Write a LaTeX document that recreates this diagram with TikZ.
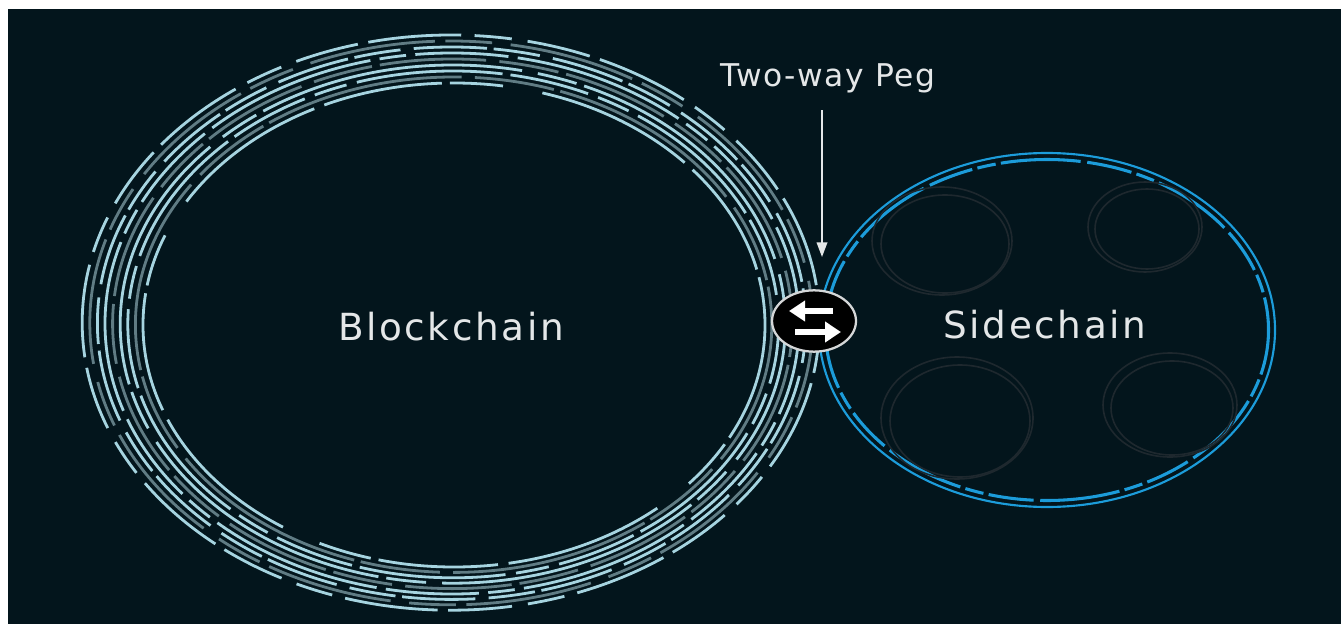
\documentclass[tikz,border=0pt]{standalone}
\usepackage{fontspec}
\setmainfont{DejaVu Sans}
\usetikzlibrary{shapes.geometric,arrows.meta}
\definecolor{night}{RGB}{3,21,28}
\definecolor{frost}{RGB}{166,212,224}
\definecolor{slate}{RGB}{96,124,132}
\definecolor{sky}{RGB}{28,156,218}
\definecolor{haze}{RGB}{30,40,46}
\definecolor{chalk}{RGB}{228,231,232}
\tikzset{
    ring/.style={line width=2.1pt},
    lite/.style={ring, draw=frost},
    dim/.style={ring, draw=slate},
    sidering/.style={draw=sky, line width=2.3pt},
    bubble/.style={draw=haze, line width=1.2pt},
    chainname/.style={text=chalk, anchor=base, font=\fontsize{28}{30}\selectfont\addfontfeature{LetterSpace=7}},
    pegname/.style={text=chalk, anchor=base, font=\fontsize{23.5}{26}\selectfont\addfontfeature{LetterSpace=5}},
    peg/.style={ellipse, fill=black, draw=chalk!85!gray, line width=1.7pt, minimum width=63pt, minimum height=46pt, inner sep=0pt},
    swap/.style={-{Triangle[length=12pt,width=15pt]}, white, line width=4.6pt},
    line/.style={-{Triangle[length=11pt,width=8pt]}, chalk, line width=1.2pt},
}

\begin{document}
\begin{tikzpicture}[x=0.75pt, y=-0.75pt]
        \useasboundingbox (0,0) rectangle (1341,624);
        \fill[white] (0,0) rectangle (1341,624);
        \fill[night] (8,9) rectangle (1341,624);

        % main chain: bundle of broken rings
        \draw[lite, dash pattern=on 90pt off 6pt on 40pt off 30pt on 120pt off 8pt] (454,325) ellipse [x radius=311, y radius=242];
        \draw[dim, dash pattern=on 150pt off 10pt on 60pt off 5pt, dash phase=40pt] (453.6,324.7) ellipse [x radius=318.2, y radius=247.7];
        \draw[lite, dash pattern=on 60pt off 8pt on 25pt off 8pt on 110pt off 6pt, dash phase=15pt] (453.2,324.4) ellipse [x radius=325.4, y radius=253.4];
        \draw[lite, dash pattern=on 200pt off 12pt on 30pt off 6pt, dash phase=90pt] (452.8,324.1) ellipse [x radius=332.6, y radius=259.1];
        \draw[dim, dash pattern=on 45pt off 6pt on 80pt off 10pt, dash phase=20pt] (452.4,323.8) ellipse [x radius=339.8, y radius=264.8];
        \draw[lite, dash pattern=on 130pt off 7pt on 20pt off 7pt on 70pt off 7pt, dash phase=60pt] (452,323.5) ellipse [x radius=347, y radius=270.5];
        \draw[lite, dash pattern=on 35pt off 10pt on 55pt off 5pt, dash phase=5pt] (451.6,323.2) ellipse [x radius=354.2, y radius=276.2];
        \draw[dim, dash pattern=on 95pt off 8pt on 35pt off 14pt, dash phase=30pt] (451.2,322.9) ellipse [x radius=361.4, y radius=281.9];
        \draw[lite, dash pattern=on 28pt off 12pt on 48pt off 8pt on 70pt off 10pt, dash phase=50pt] (450.8,322.6) ellipse [x radius=368.6, y radius=287.6];

        % side chain
        \draw[sidering, line width=1.6pt] (1047,330) ellipse [x radius=228, y radius=177];
        \draw[sidering, dash pattern=on 34pt off 4pt on 14pt off 4pt on 60pt off 5pt] (1047,330) ellipse [x radius=221.5, y radius=170.5];

        % faint bubbles inside the side chain
        \draw[bubble] (942,241) ellipse [x radius=70, y radius=54];
        \draw[bubble] (945,244) ellipse [x radius=64, y radius=49];
        \draw[bubble] (1145,227) ellipse [x radius=57, y radius=45];
        \draw[bubble] (1147,229) ellipse [x radius=52, y radius=40];
        \draw[bubble] (957,418) ellipse [x radius=76, y radius=61];
        \draw[bubble] (960,421) ellipse [x radius=70, y radius=56];
        \draw[bubble] (1170,405) ellipse [x radius=67, y radius=52];
        \draw[bubble] (1172,408) ellipse [x radius=61, y radius=47];

        \node[chainname] (main) at (451,340) {Blockchain};
        \node[chainname] (side) at (1045,338) {Sidechain};
        \node[pegname] (pegtext) at (828,87) {Two-way Peg};
        \node[peg] (peg) at (814,321) {};
        \coordinate (tip) at (822,257);

        \draw[line] ([shift={(-6,12)}]pegtext.south) -- (tip);
        \draw[swap] ([shift={(19,-10)}]peg.center) -- ([shift={(-25,-10)}]peg.center);
        \draw[swap] ([shift={(-19,11)}]peg.center) -- ([shift={(27,11)}]peg.center);

    \end{tikzpicture}
\end{document}
